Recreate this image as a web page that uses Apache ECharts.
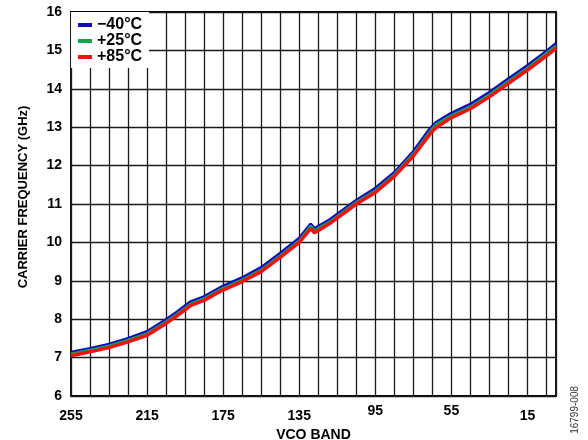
<!DOCTYPE html>
<html>
<head>
<meta charset="utf-8">
<script src="https://cdn.jsdelivr.net/npm/echarts@6/dist/echarts.min.js"></script>
<style>html,body{margin:0;padding:0;background:#fff}#c{width:588px;height:440px}</style>
</head>
<body>
<div id="c"></div>
<script>
// VCO band numbers (axis runs from 255 on the left to 0 on the right)
var bands = [255,245,235,225,215,205,200,192,185,176,165,155,145,135,129,127,125,119,105,95,85,75,66,63,55,45,35,25,15,5,0];
// Carrier frequency (GHz)
var freqM40 = [7.14,7.24,7.35,7.50,7.68,7.99,8.16,8.46,8.59,8.84,9.08,9.35,9.72,10.11,10.48,10.36,10.42,10.59,11.10,11.41,11.82,12.37,12.98,13.13,13.37,13.60,13.91,14.26,14.61,14.98,15.18];
var freqP25 = [7.10,7.20,7.31,7.46,7.63,7.94,8.11,8.41,8.54,8.79,9.03,9.29,9.66,10.05,10.43,10.31,10.37,10.54,11.05,11.35,11.77,12.31,12.91,13.08,13.31,13.54,13.85,14.20,14.55,14.93,15.12];
var freqP85 = [7.05,7.15,7.26,7.41,7.58,7.89,8.06,8.36,8.49,8.74,8.98,9.24,9.61,10.00,10.36,10.25,10.31,10.49,11.00,11.30,11.72,12.25,12.84,12.99,13.25,13.48,13.79,14.14,14.49,14.86,15.06];
var seriesNames = ['\u221240\u00b0C', '+25\u00b0C', '+85\u00b0C'];
var xTickLabels = [255, 215, 175, 135, 95, 55, 15];
var xRaisedLabels = [95, 55];
var bandMax = 255;

var FONT = '"Liberation Sans", Arial, sans-serif';
function toPairs(vals) {
  return bands.map(function (b, i) { return [bandMax - b, vals[i]]; });
}
var colors = ['#0c0cc8', '#12a64a', '#f41010'];
var widths = [3, 2.5, 3.5];
var allVals = [freqM40, freqP25, freqP85];

var labelBase = {fontFamily: FONT, fontWeight: 'bold', fontSize: 14, color: '#000'};

var chart = echarts.init(document.getElementById('c'), null, {renderer: 'canvas'});
chart.setOption({
  animation: false,
  backgroundColor: '#fff',
  grid: {left: 71, right: 32, top: 12, bottom: 44, containLabel: false, outerBoundsMode: 'none',
         show: true, borderColor: '#000', borderWidth: 1.8, backgroundColor: 'transparent'},
  legend: {
    orient: 'vertical', left: 71, top: 12,
    padding: [5, 7, 3, 7], itemGap: 0,
    backgroundColor: '#fff',
    icon: 'rect', itemWidth: 14, itemHeight: 4,
    textStyle: {fontFamily: FONT, fontWeight: 'bold', fontSize: 16, color: '#000', lineHeight: 16},
    data: seriesNames
  },
  xAxis: {
    type: 'value', min: 0, max: bandMax, interval: 10,
    name: 'VCO BAND', nameLocation: 'middle', nameGap: 31,
    nameTextStyle: {fontFamily: FONT, fontWeight: 'bold', fontSize: 14, color: '#000'},
    axisLine: {show: false}, axisTick: {show: false},
    axisLabel: {
      margin: 8, showMaxLabel: false,
      fontFamily: FONT, fontWeight: 'bold', fontSize: 14, color: '#000',
      formatter: function (v) {
        var b = bandMax - v;
        if (xTickLabels.indexOf(b) < 0) return '';
        return (xRaisedLabels.indexOf(b) >= 0 ? '{up|' : '{n|') + b + '}';
      },
      rich: {
        n: Object.assign({padding: [5, 0, 0, 0]}, labelBase),
        up: Object.assign({padding: [0, 0, 0, 0]}, labelBase)
      }
    },
    splitLine: {show: true, lineStyle: {color: '#1a1a1a', width: 1.3}}
  },
  yAxis: {
    type: 'value', min: 6, max: 16, interval: 1,
    name: 'CARRIER FREQUENCY (GHz)', nameLocation: 'middle', nameGap: 41,
    nameTextStyle: {fontFamily: FONT, fontWeight: 'bold', fontSize: 13, color: '#000', padding: [0, 0, 0, 14]},
    axisLine: {show: false}, axisTick: {show: false},
    axisLabel: {margin: 9, fontFamily: FONT, fontWeight: 'bold', fontSize: 14, color: '#000'},
    splitLine: {show: true, lineStyle: {color: '#1a1a1a', width: 1.4}}
  },
  series: allVals.map(function (vals, i) {
    return {
      name: seriesNames[i], type: 'line', data: toPairs(vals),
      showSymbol: false, symbol: 'none', smooth: false,
      color: colors[i],
      lineStyle: {color: colors[i], width: widths[i]},
      z: 3 + i
    };
  }),
  graphic: [{
    type: 'text', left: 570, top: 386, rotation: Math.PI / 2,
    style: {text: '16799-008', fontFamily: FONT, fontSize: 10, fill: '#333'}
  }]
});
</script>
</body>
</html>
